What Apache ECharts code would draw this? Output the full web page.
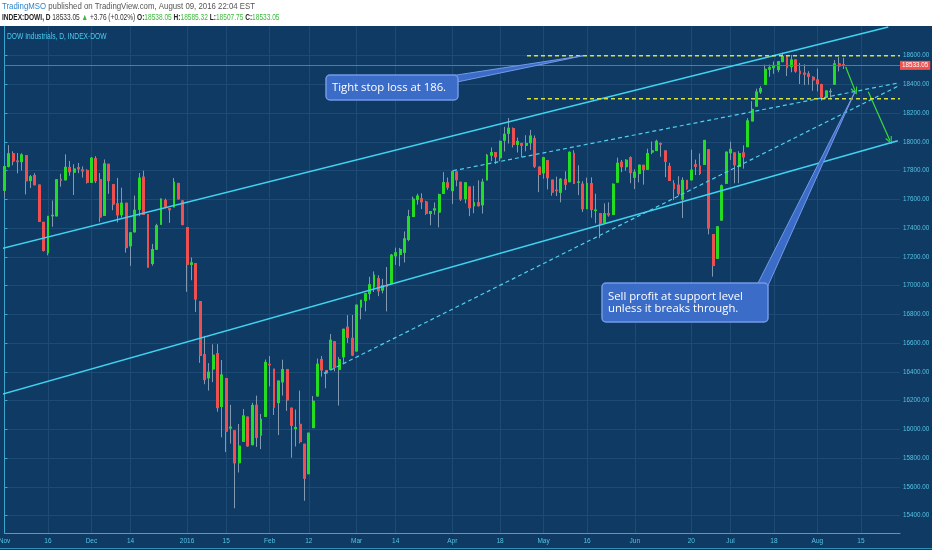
<!DOCTYPE html>
<html>
<head>
<meta charset="utf-8">
<title>DOW Industrials, D, INDEX-DOW</title>
<script src="https://cdn.jsdelivr.net/npm/echarts@6/dist/echarts.min.js"></script>
<style>
	html, body { margin: 0; padding: 0; background: #0f3a63; }
	#main { width: 932px; height: 550px; }
</style>
</head>
<body>
<div id="main"></div>
<script>
// trading days, plus the blank days on the right of the chart
var dates = [
	'2015-11-02','2015-11-03','2015-11-04','2015-11-05','2015-11-06','2015-11-09','2015-11-10','2015-11-11','2015-11-12','2015-11-13',
	'2015-11-16','2015-11-17','2015-11-18','2015-11-19','2015-11-20','2015-11-23','2015-11-24','2015-11-25','2015-11-27','2015-11-30',
	'2015-12-01','2015-12-02','2015-12-03','2015-12-04','2015-12-07','2015-12-08','2015-12-09','2015-12-10','2015-12-11','2015-12-14',
	'2015-12-15','2015-12-16','2015-12-17','2015-12-18','2015-12-21','2015-12-22','2015-12-23','2015-12-24','2015-12-28','2015-12-29',
	'2015-12-30','2015-12-31',
	'2016-01-04','2016-01-05','2016-01-06','2016-01-07','2016-01-08','2016-01-11','2016-01-12','2016-01-13','2016-01-14','2016-01-15',
	'2016-01-19','2016-01-20','2016-01-21','2016-01-22','2016-01-25','2016-01-26','2016-01-27','2016-01-28','2016-01-29',
	'2016-02-01','2016-02-02','2016-02-03','2016-02-04','2016-02-05','2016-02-08','2016-02-09','2016-02-10','2016-02-11','2016-02-12',
	'2016-02-16','2016-02-17','2016-02-18','2016-02-19','2016-02-22','2016-02-23','2016-02-24','2016-02-25','2016-02-26','2016-02-29',
	'2016-03-01','2016-03-02','2016-03-03','2016-03-04','2016-03-07','2016-03-08','2016-03-09','2016-03-10','2016-03-11','2016-03-14',
	'2016-03-15','2016-03-16','2016-03-17','2016-03-18','2016-03-21','2016-03-22','2016-03-23','2016-03-24','2016-03-28','2016-03-29',
	'2016-03-30','2016-03-31',
	'2016-04-01','2016-04-04','2016-04-05','2016-04-06','2016-04-07','2016-04-08','2016-04-11','2016-04-12','2016-04-13','2016-04-14',
	'2016-04-15','2016-04-18','2016-04-19','2016-04-20','2016-04-21','2016-04-22','2016-04-25','2016-04-26','2016-04-27','2016-04-28',
	'2016-04-29',
	'2016-05-02','2016-05-03','2016-05-04','2016-05-05','2016-05-06','2016-05-09','2016-05-10','2016-05-11','2016-05-12','2016-05-13',
	'2016-05-16','2016-05-17','2016-05-18','2016-05-19','2016-05-20','2016-05-23','2016-05-24','2016-05-25','2016-05-26','2016-05-27',
	'2016-05-31',
	'2016-06-01','2016-06-02','2016-06-03','2016-06-06','2016-06-07','2016-06-08','2016-06-09','2016-06-10','2016-06-13','2016-06-14',
	'2016-06-15','2016-06-16','2016-06-17','2016-06-20','2016-06-21','2016-06-22','2016-06-23','2016-06-24','2016-06-27','2016-06-28',
	'2016-06-29','2016-06-30',
	'2016-07-01','2016-07-05','2016-07-06','2016-07-07','2016-07-08','2016-07-11','2016-07-12','2016-07-13','2016-07-14','2016-07-15',
	'2016-07-18','2016-07-19','2016-07-20','2016-07-21','2016-07-22','2016-07-25','2016-07-26','2016-07-27','2016-07-28','2016-07-29',
	'2016-08-01','2016-08-02','2016-08-03','2016-08-04','2016-08-05','2016-08-08','2016-08-09',
	'2016-08-10','2016-08-11','2016-08-12','2016-08-15','2016-08-16','2016-08-17','2016-08-18','2016-08-19','2016-08-22','2016-08-23',
	'2016-08-24','2016-08-25','2016-08-26'
];

var openVals = [
	17663,17829,17918,17868,17863,17906,17731,17767,17701,17441,17229,17486,17485,17740,17736,17823,17790,17821,17806,17802,
	17719,17884,17738,17489,17845,17703,17570,17493,17574,17277,17374,17530,17756,17495,17154,17253,17427,17593,17536,17547,17712,17590,
	17405,17147,17154,16889,16520,16358,16420,16527,16159,16354,16009,15990,15768,15917,16086,15893,16168,15960,16090,
	16453,16420,16186,16330,16417,16148,16005,16035,15897,15691,16012,16232,16487,16410,16417,16610,16418,16504,16712,16634,
	16545,16851,16896,16945,16991,17050,16969,17006,17014,17207,17217,17232,17321,17481,17599,17605,17582,17502,17526,17512,17642,17716,
	17661,17792,17720,17605,17687,17555,17577,17562,17735,17908,17926,17890,18012,18060,18093,17983,17990,17977,17994,18023,17826,
	17784,17870,17735,17665,17650,17740,17723,17921,17720,17707,17535,17711,17522,17501,17440,17501,17495,17720,17859,17828,17891,
	17754,17780,17838,17810,17930,17940,17990,17938,17830,17710,17700,17602,17733,17736,17842,17832,17844,17946,17355,17190,17456,17712,
	17924,17924,17829,17924,17967,18146,18249,18348,18401,18506,18517,18503,18559,18595,18524,18571,18493,18480,18474,18450,
	18432,18400,18315,18350,18402,18543,18538.05
];
var closeVals = [
	17829,17918,17868,17863,17910,17730,17758,17702,17448,17245,17483,17490,17737,17733,17824,17793,17812,17813,17798,17720,
	17888,17730,17478,17848,17731,17568,17492,17575,17265,17368,17525,17749,17496,17129,17252,17417,17603,17552,17528,17721,17604,17425,
	17149,17159,16907,16514,16346,16399,16516,16151,16379,15988,16016,15767,15883,16094,15885,16167,15944,16070,16466,
	16449,16154,16337,16417,16205,16027,16014,15915,15660,15974,16196,16454,16413,16392,16621,16432,16485,16697,16640,16517,
	16865,16899,16944,17007,17074,16964,17000,16995,17213,17229,17252,17326,17481,17602,17624,17583,17503,17516,17535,17633,17717,17685,
	17793,17737,17603,17716,17542,17577,17556,17721,17908,17926,17897,18004,18054,18096,17983,18004,17977,17990,18042,17831,17774,
	17891,17751,17651,17661,17741,17706,17928,17711,17721,17535,17711,17530,17527,17435,17501,17493,17706,17852,17828,17873,17787,
	17790,17839,17807,17920,17938,18005,17985,17865,17732,17675,17640,17733,17675,17805,17830,17781,18011,17401,17140,17410,17695,17930,
	17949,17841,17919,17896,18147,18227,18348,18372,18506,18517,18533,18559,18595,18517,18571,18493,18474,18472,18456,18432,
	18405,18314,18355,18352,18544,18529,18533.05
];
var lowVals = [
	17614,17823,17838,17782,17801,17635,17679,17701,17446,17238,17211,17410,17485,17689,17736,17765,17631,17783,17752,17711,
	17719,17714,17444,17485,17639,17525,17440,17474,17230,17138,17374,17483,17495,17128,17139,17253,17427,17538,17437,17547,17601,17421,
	16957,17038,16817,16463,16314,16270,16329,16123,15945,15842,15901,15451,15700,15917,15880,15893,15878,15863,16090,
	16299,16100,15960,16235,16129,15803,15881,15903,15503,15691,16012,16232,16367,16286,16417,16404,16166,16458,16602,16510,
	16545,16766,16821,16902,16956,16927,16947,16821,17014,17144,17135,17161,17309,17481,17564,17533,17493,17420,17494,17406,17642,17667,
	17568,17691,17589,17573,17484,17504,17551,17502,17735,17866,17846,17866,17934,17989,17962,17927,17893,17935,17945,17819,17651,
	17744,17670,17626,17624,17580,17666,17723,17711,17630,17513,17535,17473,17434,17331,17440,17480,17495,17720,17790,17800,17713,
	17672,17719,17703,17810,17915,17940,17897,17755,17731,17595,17625,17471,17667,17736,17770,17770,17844,17357,17063,17190,17456,17712,
	17875,17713,17713,17814,17967,18146,18249,18334,18401,18454,18474,18485,18555,18459,18485,18482,18403,18396,18398,18356,
	18352,18288,18297,18308,18400,18491,18507.75
];
var highVals = [
	17833,17978,17935,17923,17922,17906,17770,17783,17701,17441,17484,17593,17738,17779,17914,17868,17845,17854,17830,17810,
	17895,17901,17784,17878,17845,17703,17750,17682,17574,17372,17627,17784,17800,17495,17291,17431,17606,17606,17536,17750,17712,17591,
	17405,17196,17154,16889,16651,16461,16592,16593,16483,16354,16171,15990,16038,16142,16086,16185,16235,16107,16486,
	16510,16420,16337,16485,16419,16148,16138,16270,15897,15975,16232,16493,16511,16410,16664,16610,16504,16697,16795,16796,
	16866,16900,16945,17062,17099,17072,17048,17130,17221,17265,17263,17377,17528,17620,17640,17643,17591,17516,17579,17640,17790,17753,
	17803,17792,17720,17716,17687,17695,17733,17744,17917,17962,17926,18009,18105,18167,18101,18031,17993,18047,18084,18045,17826,
	17896,17870,17735,17759,17749,17796,17934,17942,17838,17727,17752,17754,17640,17504,17573,17580,17711,17891,17875,17880,17900,
	17810,17839,17838,17953,18003,18016,17995,17938,17855,17734,17762,17754,17733,17946,17877,17920,18011,17946,17355,17410,17704,17930,
	18002,17924,17936,17976,18166,18284,18371,18388,18538,18538,18560,18560,18622,18596,18605,18571,18550,18540,18492,18457,
	18511,18405,18356,18372,18570,18590,18585.32
];

// price axis labels
var yTicks = [15400,15600,15800,16000,16200,16400,16600,16800,17000,17200,17400,17600,17800,18000,18200,18400,18600];
// time axis labels
var dateLabels = {
	'2015-11-02': 'Nov', '2015-11-16': '16', '2015-12-01': 'Dec', '2015-12-14': '14',
	'2016-01-04': '2016', '2016-01-15': '15', '2016-02-01': 'Feb', '2016-02-12': '12',
	'2016-03-01': 'Mar', '2016-03-14': '14', '2016-04-01': 'Apr', '2016-04-18': '18',
	'2016-05-02': 'May', '2016-05-16': '16', '2016-06-01': 'Jun', '2016-06-20': '20',
	'2016-07-01': 'Jul', '2016-07-18': '18', '2016-08-01': 'Aug', '2016-08-15': '15'
};
var lastPrice = 18533.05;

// drawings: [bar index, price] pairs
var upperChannel = [[-1.04, 17255], [203.3, 18800]];
var lowerChannel = [[-1.04, 16240], [205.5, 18009]];
var dashedUpper = [[103.2, 17800], [205.8, 18412]];
var dashedLower = [[73.5, 16390], [205.8, 18392]];
var resistance = [[120.2, 18600], [206, 18600]];
var support = [[120.2, 18300], [206, 18300]];
var arrowNear = [[193.5, 18524], [195.7, 18354]];
var arrowFar = [[198.7, 18350], [203.7, 18009]];
var stopTip = [133.1, 18600];
var profitTip = [195.65, 18350];

var axisFont = "'Liberation Sans', sans-serif";
var axisColor = '#3aa6cf';
var labelColor = '#55c3e6';
var gridColor = '#1d4b76';

var chart = echarts.init(document.getElementById('main'));

var wickData = [];
var bodyData = [];
openVals.forEach(function (o, i) {
	var c = closeVals[i];
	wickData.push([o, c, lowVals[i], highVals[i]]);
	bodyData.push([o, c, Math.min(o, c), Math.max(o, c)]);
});

function hasLabel(index, value) {
	return dateLabels[value] !== undefined;
}

function drawing(name, pts, color, dash, width) {
	return {
		name: name,
		type: 'line',
		xAxisIndex: 1,
		yAxisIndex: 0,
		data: pts,
		symbol: 'none',
		silent: true,
		z: 5,
		lineStyle: { color: color, width: width, type: dash ? [4, 3] : 'solid' }
	};
}

var chevron = 'path://M5,0 L10,10 L8.6,10.7 L5,3 L1.4,10.7 L0,10 Z';

var supportSeries = drawing('support', support, '#d8e03a', true, 1.5);
supportSeries.markLine = {
	silent: true,
	symbol: ['none', chevron],
	symbolSize: [7, 8],
	label: { show: false },
	lineStyle: { color: '#3bdc3b', width: 1.2, type: 'solid' },
	data: [
		[{ coord: arrowNear[0] }, { coord: arrowNear[1] }],
		[{ coord: arrowFar[0] }, { coord: arrowFar[1] }]
	]
};

var option = {
	backgroundColor: '#0f3a63',
	animation: false,
	grid: { left: 4.5, right: 32, top: 26, bottom: 17, outerBoundsMode: 'none', containLabel: false },
	xAxis: [{
		type: 'category',
		data: dates,
		boundaryGap: false,
		axisLine: { lineStyle: { color: axisColor } },
		axisTick: { show: false },
		axisLabel: {
			interval: hasLabel,
			formatter: function (v) { return dateLabels[v] || ''; },
			color: labelColor,
			fontSize: 6.5,
			fontFamily: axisFont,
			margin: 5
		},
		splitLine: { show: true, interval: hasLabel, lineStyle: { color: gridColor, width: 1 } }
	}, {
		type: 'value',
		min: 0,
		max: dates.length - 1,
		show: false
	}],
	yAxis: {
		type: 'value',
		position: 'right',
		min: 15279,
		max: 18807,
		axisLine: { show: true, lineStyle: { color: axisColor } },
		axisTick: { show: true, length: 3, customValues: yTicks, lineStyle: { color: axisColor } },
		axisLabel: {
			customValues: yTicks,
			formatter: function (v) { return v.toFixed(2); },
			color: labelColor,
			fontSize: 6.3,
			fontFamily: axisFont,
			margin: 3
		},
		splitLine: { show: true, lineStyle: { color: gridColor, width: 1 } }
	},
	series: [{
		name: 'wicks',
		type: 'candlestick',
		data: wickData,
		barWidth: 2.4,
		silent: true,
		z: 2,
		itemStyle: {
			color: 'transparent', color0: 'transparent',
			borderColor: '#8299b0', borderColor0: '#8299b0', borderWidth: 1
		}
	}, {
		name: 'INDEX:DOWI',
		type: 'candlestick',
		data: bodyData,
		barWidth: 2.4,
		silent: true,
		z: 3,
		itemStyle: {
			color: '#22dd22', color0: '#ef4f4f',
			borderColor: '#22dd22', borderColor0: '#ef4f4f', borderWidth: 1
		},
		markLine: {
			silent: true,
			symbol: 'none',
			lineStyle: { color: '#b8545a', width: 1, type: 'solid' },
			label: {
				show: true,
				position: 'end',
				distance: 0,
				formatter: lastPrice.toFixed(2),
				color: '#ffffff',
				backgroundColor: '#ef5350',
				padding: [2, 2, 1, 2],
				fontSize: 6.3,
				fontFamily: axisFont
			},
			data: [{ yAxis: lastPrice }]
		}
	},
		drawing('upper channel', upperChannel, '#3fd3f0', false, 1.5),
		drawing('lower channel', lowerChannel, '#3fd3f0', false, 1.5),
		drawing('dashed upper', dashedUpper, '#4fd0ee', true, 1.2),
		drawing('dashed lower', dashedLower, '#4fd0ee', true, 1.2),
		drawing('resistance', resistance, '#d8e03a', true, 1.5),
		supportSeries
	]
};

chart.setOption(option);

// header, legend and the two callouts
var stopPx = chart.convertToPixel({ xAxisIndex: 1, yAxisIndex: 0 }, stopTip);
var profitPx = chart.convertToPixel({ xAxisIndex: 1, yAxisIndex: 0 }, profitTip);
var boxFill = '#3a6cc8';
var boxStroke = '#7499e6';

chart.setOption({
	graphic: [
		{ type: 'rect', shape: { x: 0, y: 0, width: 932, height: 26 }, style: { fill: '#ffffff' }, z: 100 },
		{ type: 'line', shape: { x1: 0, y1: 548.5, x2: 932, y2: 548.5 }, style: { stroke: '#2f8fb8', lineWidth: 1 }, z: 100 },
		{
			type: 'text', x: 2, y: 7, scaleX: 0.87, z: 101,
			style: {
				text: '{a|TradingMSO}{b| published on TradingView.com, August 09, 2016 22:04 EST}',
				verticalAlign: 'middle',
				font: '9px Liberation Sans',
				rich: {
					a: { fill: '#2f86c8', fontSize: 9, fontFamily: 'Liberation Sans' },
					b: { fill: '#555555', fontSize: 9, fontFamily: 'Liberation Sans' }
				}
			}
		},
		{
			type: 'text', x: 2, y: 18, scaleX: 0.73, z: 101,
			style: {
				text: '{k|INDEX:DOWI, D}{t| 18533.05 }{g|▲}{t| +3.76 (+0.02%) }{k|O:}{g|18538.05}{k| H:}{g|18585.32}{k| L:}{g|18507.75}{k| C:}{g|18533.05}',
				verticalAlign: 'middle',
				font: '9px Liberation Sans',
				rich: {
					k: { fill: '#222222', fontSize: 9, fontWeight: 'bold', fontFamily: 'Liberation Sans' },
					t: { fill: '#333333', fontSize: 9, fontFamily: 'Liberation Sans' },
					g: { fill: '#3cb93c', fontSize: 9, fontFamily: 'Liberation Sans' }
				}
			}
		},
		{
			type: 'text', x: 7, y: 37, scaleX: 0.74, z: 101,
			style: { text: 'DOW Industrials, D, INDEX-DOW', fill: '#49cdf0', font: '9px Liberation Sans', verticalAlign: 'middle' }
		},
		{
			type: 'polygon', z: 110,
			shape: { points: [[450, 76], [457, 82], stopPx] },
			style: { fill: boxFill, stroke: boxStroke, lineWidth: 1 }
		},
		{
			type: 'rect', z: 111,
			shape: { x: 326, y: 75, width: 132, height: 25, r: 4 },
			style: { fill: boxFill, stroke: boxStroke, lineWidth: 1.5 }
		},
		{
			type: 'text', x: 332, y: 88, z: 112,
			style: { text: 'Tight stop loss at 186.', fill: '#ffffff', font: '11.3px Open Sans', verticalAlign: 'middle' }
		},
		{
			type: 'polygon', z: 110,
			shape: { points: [[757, 285], [766, 290], profitPx] },
			style: { fill: boxFill, stroke: boxStroke, lineWidth: 1 }
		},
		{
			type: 'rect', z: 111,
			shape: { x: 602, y: 283, width: 166, height: 39, r: 4 },
			style: { fill: boxFill, stroke: boxStroke, lineWidth: 1.5 }
		},
		{
			type: 'text', x: 608, y: 302.5, z: 112,
			style: {
				text: 'Sell profit at support level\nunless it breaks through.',
				fill: '#ffffff', font: '11.3px Open Sans', verticalAlign: 'middle', lineHeight: 12
			}
		}
	]
});
</script>
</body>
</html>
